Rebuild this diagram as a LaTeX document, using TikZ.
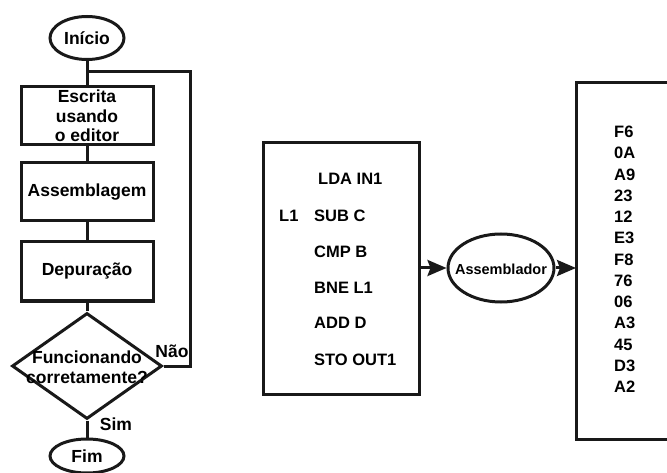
\documentclass[tikz,border=0pt]{standalone}
\usepackage{fontspec}
\setmainfont{Liberation Sans}
\usetikzlibrary{shapes.geometric,arrows.meta}
\begin{document}
\begin{tikzpicture}[x=1pt,y=-1pt,
  every node/.style={font=\bfseries\fontsize{17.5}{19.5}\selectfont, inner sep=0pt},
  line/.style={line width=3pt, draw=black!90},
  stepbox/.style={line, draw, rectangle, minimum width=132pt, minimum height=58pt, align=center},
  term/.style={line, draw, ellipse, minimum width=74pt, minimum height=43pt},
  decision/.style={line, draw, diamond, minimum width=150pt, minimum height=106pt},
  arr/.style={line, -{Stealth[length=19pt,width=16pt,inset=3pt]}},
  code/.style={anchor=west, font=\bfseries\fontsize{16.5}{19}\selectfont},
  hex/.style={anchor=west, font=\bfseries\fontsize{16.5}{19}\selectfont}]
\useasboundingbox (0,0) rectangle (667,473);

% flowchart of the development cycle
\node[term] (ini) at (87,38) {Início};
\node[stepbox] (esc) at (87,116) {Escrita\\usando\\o editor};
\node[stepbox] (ass) at (87,192) {Assemblagem};
\node[stepbox, minimum height=59pt] (dep) at (87,271.5) {Depuração};
\node[decision] (dec) at (87,366) {};
\node[align=center] (q) at (87,367) {Funcionando\\corretamente?};
\node[term, minimum height=34pt] (fim) at (87,456) {Fim};

\coordinate (j) at (87,72);
\coordinate (tr) at (190,72);
\coordinate (br) at (190,366);
\draw[line] (ini) -- (esc);
\draw[line] (esc) -- (ass);
\draw[line] (ass) -- (dep);
\draw[line] (dep) -- (dec);
\draw[line] (dec) -- (fim);
\draw[line] (dec.east) -- (br) -- (tr) -- (j);
\node (nao) at (172,351) {Não};
\node (sim) at (116,424) {Sim};

% source program
\draw[line] (263,143) rectangle (419,394);
\coordinate (srcR) at (419,268);
\node[code] (c1) at (318,179) {LDA IN1};
\node[code] (lb) at (279,216) {L1};
\node[code] (c2) at (314,216) {SUB C};
\node[code] (c3) at (314,252) {CMP B};
\node[code] (c4) at (314,288) {BNE L1};
\node[code] (c5) at (314,323) {ADD D};
\node[code] (c6) at (314,360) {STO OUT1};

% assembler
\node[line, draw, ellipse, minimum width=106pt, minimum height=68pt] (asm) at (501,268) {};
\node[font=\bfseries\fontsize{14.5}{17}\selectfont] (asmt) at (501,269) {Assemblador};
\draw[arr] (srcR) -- (asm.west);

% object code
\begin{scope}
\clip (560,70) rectangle (667,460);
\draw[line] (690,83) -- (576,83) -- (576,439) -- (690,439);
\end{scope}
\coordinate (objL) at (576,268);
\draw[arr] (asm.east) -- (objL);
\foreach \v [count=\i from 0] in {F6,0A,A9,23,12,E3,F8,76,06,A3,45,D3,A2}
  \node[hex] (h\i) at (614,{132+21.25*\i}) {\v};
\end{tikzpicture}
\end{document}
